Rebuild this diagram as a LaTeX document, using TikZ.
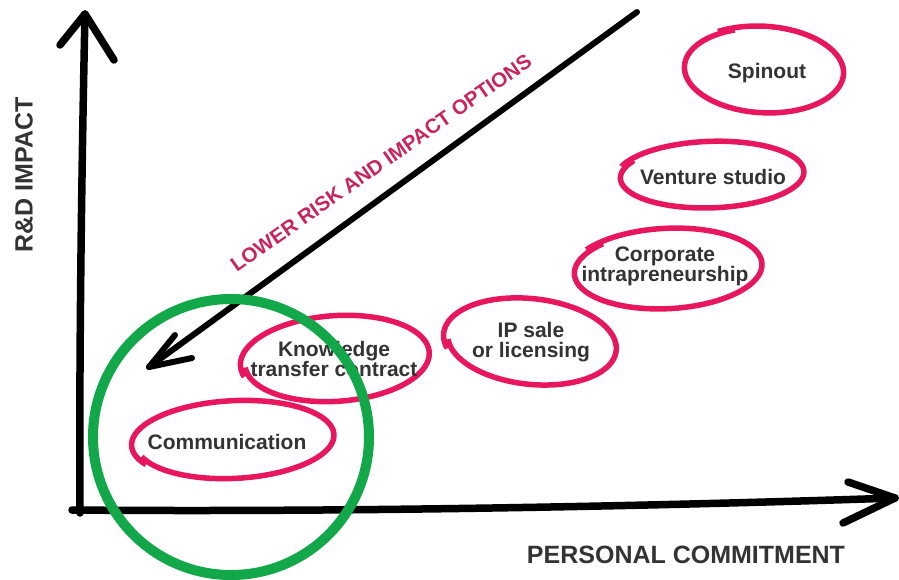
\documentclass[tikz,border=0pt]{standalone}
\usepackage{fontspec}
\setmainfont{Liberation Sans}
\definecolor{ringpink}{HTML}{E8175D}
\definecolor{labelpink}{HTML}{C8245D}
\definecolor{txtgray}{HTML}{333333}
\definecolor{circgreen}{HTML}{12A84A}
\newcommand\pinkring[6]{%
  \begin{scope}[shift={(#1,#2)}, rotate=#5]
    \draw[ring] plot[domain=#6:#6+372, samples=100, smooth]
      ({#3*cos(\x)*(1-0.05*(\x-#6)/372)}, {#4*sin(\x)*(1-0.05*(\x-#6)/372)});
  \end{scope}}
\begin{document}
\begin{tikzpicture}[x=1pt,y=-1pt,
  ring/.style={draw=ringpink, line width=5.5pt, line cap=butt, line join=round},
  axis/.style={draw=black, line width=7.5pt, line cap=round, line join=round},
  opt/.style={text=txtgray, font=\bfseries\fontsize{21}{20}\selectfont, align=center, inner sep=0pt},
  axlabel/.style={text=txtgray, font=\bfseries\fontsize{25}{25}\selectfont, inner sep=0pt},
  diaglabel/.style={text=labelpink, font=\bfseries\fontsize{20.5}{20}\selectfont, inner sep=0pt}]
\useasboundingbox (0,0) rectangle (899,579);

% axes
\coordinate (yb) at (80,513);
\coordinate (yt) at (85,14);
\coordinate (ybl) at (60,45);
\coordinate (ybr) at (114,60);
\coordinate (xl) at (72,510);
\coordinate (xr) at (895,498);
\coordinate (xbu) at (848,482);
\coordinate (xbd) at (843,523);
\draw[axis] (yb) .. controls (79,350) and (82,150) .. (yt);
\draw[axis] (ybl) -- (yt) -- (ybr);
\draw[axis] (xl) .. controls (300,512) and (600,508) .. (xr);
\draw[axis] (xbu) -- (xr) -- (xbd);

% diagonal arrow
\coordinate (dt) at (637,12);
\coordinate (dh) at (149,367);
\coordinate (dbu) at (175,335);
\coordinate (dbr) at (192,358);
\draw[axis, line width=6pt] (dt) -- (dh);
\draw[axis, line width=6pt] (dbu) -- (dh) -- (dbr);

% labels
\node[axlabel, rotate=90] (ylab) at (24,175) {R\&D IMPACT};
\node[axlabel] (xlab) at (686,555) {PERSONAL COMMITMENT};
\node[diaglabel, rotate=35] (dlab) at (381,163) {LOWER RISK AND IMPACT OPTIONS};

% options
\pinkring{763}{70}{82}{44}{-3}{235}
\node[opt] (spin) at (767,73) {Spinout};
\pinkring{711}{175}{95}{34}{2}{200}
\node[opt] (vent) at (713,177) {Venture studio};
\pinkring{667}{269}{97}{41}{3}{215}
\node[opt] (corp) at (665,266) {Corporate\\intrapreneurship};
\pinkring{531}{342}{88}{44}{-6}{160}
\node[opt] (ip) at (531,342) {IP sale\\or licensing};
\pinkring{336}{359}{96}{44}{4}{165}
\node[opt] (ktc) at (334,359) {Knowledge\\transfer contract};
\pinkring{234}{440}{103}{40}{3}{150}
\node[opt] (comm) at (227,442) {Communication};

% highlight circle
\draw[draw=circgreen, line width=10pt] (comm) ++(4,-5) circle[radius=138];
\end{tikzpicture}
\end{document}
